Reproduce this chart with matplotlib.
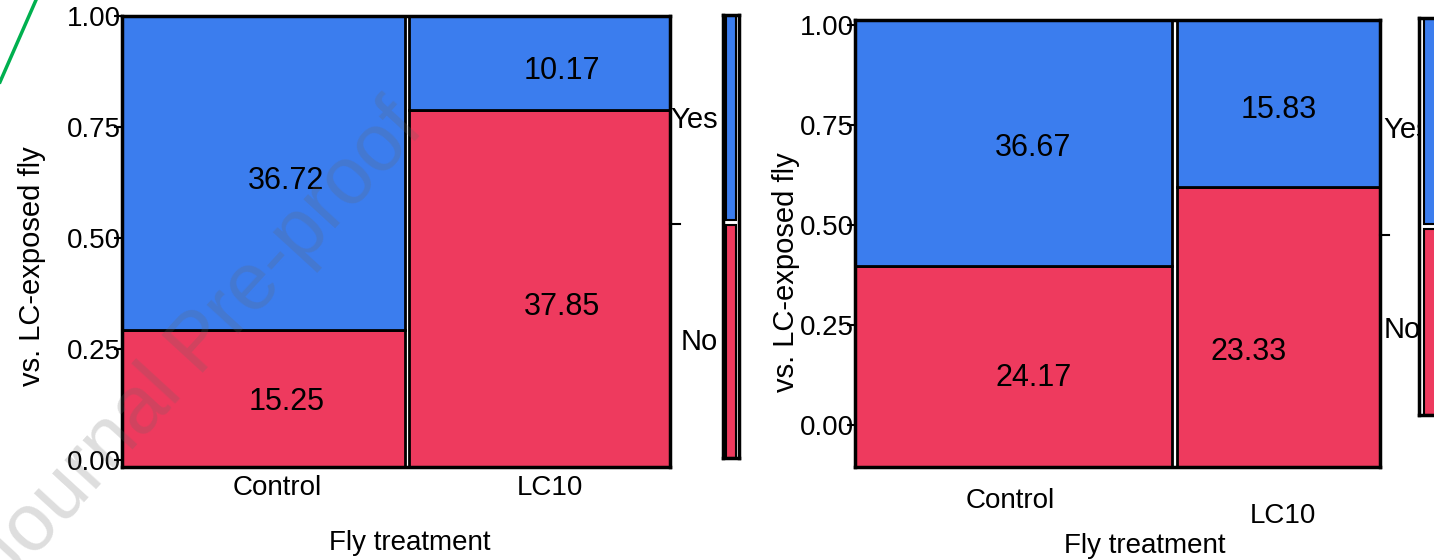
import matplotlib.pyplot as plt
from matplotlib.patches import Rectangle
from matplotlib.lines import Line2D

plt.rcParams['font.family'] = ['Liberation Sans', 'DejaVu Sans']

# mosaic data: percentages per fly treatment and response
groups = ['Control', 'LC10']
responses = ['No', 'Yes']
left_no = [15.25, 37.85]
left_yes = [36.72, 10.17]
right_no = [24.17, 23.33]
right_yes = [36.67, 15.83]

BLUE = '#3b7dee'
RED = '#ee3a5e'
W, H = 1434, 560


def px_axes(x0, x1, y_top, y_bot):
    # pixel box -> figure fraction rect
    return [x0 / W, 1 - y_bot / H, (x1 - x0) / W, (y_bot - y_top) / H]


def mosaic(ax, no, yes, ylim, val_offsets, cat_drop, side_ax, side_x, side_ha):
    ax.set_xlim(0, 1)
    ax.set_ylim(*ylim)
    y0, y1 = ylim
    totals = [n + y for n, y in zip(no, yes)]
    grand = sum(totals)
    gap = 0.004
    x = 0
    k = 0
    for i, g in enumerate(groups):
        w = totals[i] / grand
        xa, xb = x + (gap if i else 0), x + w - (gap if i == 0 else 0)
        frac = no[i] / totals[i]
        ax.add_patch(Rectangle((xa, y0), xb - xa, frac - y0, facecolor=RED,
                               edgecolor='black', lw=2))
        ax.add_patch(Rectangle((xa, frac), xb - xa, y1 - frac, facecolor=BLUE,
                               edgecolor='black', lw=2))
        cx = (xa + xb) / 2
        for val, cy in [(no[i], (y0 + frac) / 2), (yes[i], (frac + y1) / 2)]:
            dx, dy = val_offsets[k]
            k += 1
            ax.annotate(f'{val:.2f}', (cx, cy), xytext=(dx, -dy),
                        textcoords='offset pixels', ha='center', va='center',
                        fontsize=22)
        ax.annotate(g, (cx, 0), xycoords=('data', 'axes fraction'),
                    xytext=(cat_drop[i][0], -cat_drop[i][1]),
                    textcoords='offset pixels', ha='center', va='center',
                    fontsize=20)
        x += w

    ax.set_xticks([])
    ax.set_yticks([0, 0.25, 0.5, 0.75, 1.0])
    ax.set_yticklabels(['0.00', '0.25', '0.50', '0.75', '1.00'])
    ax.tick_params(axis='y', direction='out', length=6, width=1.5,
                   pad=-5, labelsize=20)
    for s in ax.spines.values():
        s.set_linewidth(2.5)

    # marginal proportions, shown as the side bar and Yes/No labels
    p_no = sum(no) / (sum(no) + sum(yes))
    ax.plot([1.0, 1.018], [p_no, p_no], color='black', lw=1.5,
            transform=ax.get_yaxis_transform(), clip_on=False)
    ax.text(side_x, (p_no + 1) / 2, 'Yes', transform=ax.get_yaxis_transform(),
            ha=side_ha, va='center', fontsize=21)
    ax.text(side_x, p_no / 2, 'No', transform=ax.get_yaxis_transform(),
            ha=side_ha, va='center', fontsize=21)

    side_ax.set_xlim(0, 1)
    side_ax.set_ylim(0, 1)
    side_ax.bar(0.5, p_no - 0.006, width=0.6, bottom=0, color=RED,
                edgecolor='black', lw=1.5)
    side_ax.bar(0.5, 1 - p_no - 0.006, width=0.6, bottom=p_no + 0.006,
                color=BLUE, edgecolor='black', lw=1.5)
    side_ax.set_xticks([])
    side_ax.set_yticks([])
    for s in side_ax.spines.values():
        s.set_linewidth(2.5)


fig = plt.figure(figsize=(W / 100, H / 100), dpi=100)

ax1 = fig.add_axes(px_axes(122, 670, 16, 467))
side1 = fig.add_axes(px_axes(723, 739, 15, 458))
mosaic(ax1, left_no, left_yes, (-0.016, 1.0),
       [(23, 4), (23, 8), (22, 18), (22, 8)],
       [(14, 21), (10, 21)], side1, 1.088, 'right')

ax2 = fig.add_axes(px_axes(855, 1380, 20, 467))
side2 = fig.add_axes(px_axes(1419, 1446, 18, 415), zorder=5)
mosaic(ax2, right_no, right_yes, (-0.105, 1.0125),
       [(20, 11), (19, 5), (-30, 25), (0, 7)],
       [(-3, 34), (5, 49)], side2, 1.006, 'left')

fig.text(32 / W, 1 - 266 / H, 'vs. LC-exposed fly', rotation=90,
         ha='center', va='center', fontsize=21)
fig.text(786 / W, 1 - 272 / H, 'vs. LC-exposed fly', rotation=90,
         ha='center', va='center', fontsize=21)
fig.text(410 / W, 1 - 543 / H, 'Fly treatment', ha='center', va='center', fontsize=20)
fig.text(1145 / W, 1 - 546 / H, 'Fly treatment', ha='center', va='center', fontsize=20)

fig.add_artist(Line2D([0, 36 / W], [1 - 82 / H, 1], color='#00b04f', lw=2.5))
fig.text(200 / W, 1 - 345 / H, 'Journal Pre-proof', rotation=47.5,
         ha='center', va='center', fontsize=58, color='#666666', alpha=0.22,
         zorder=10)

fig.savefig('out.png', dpi=100)
